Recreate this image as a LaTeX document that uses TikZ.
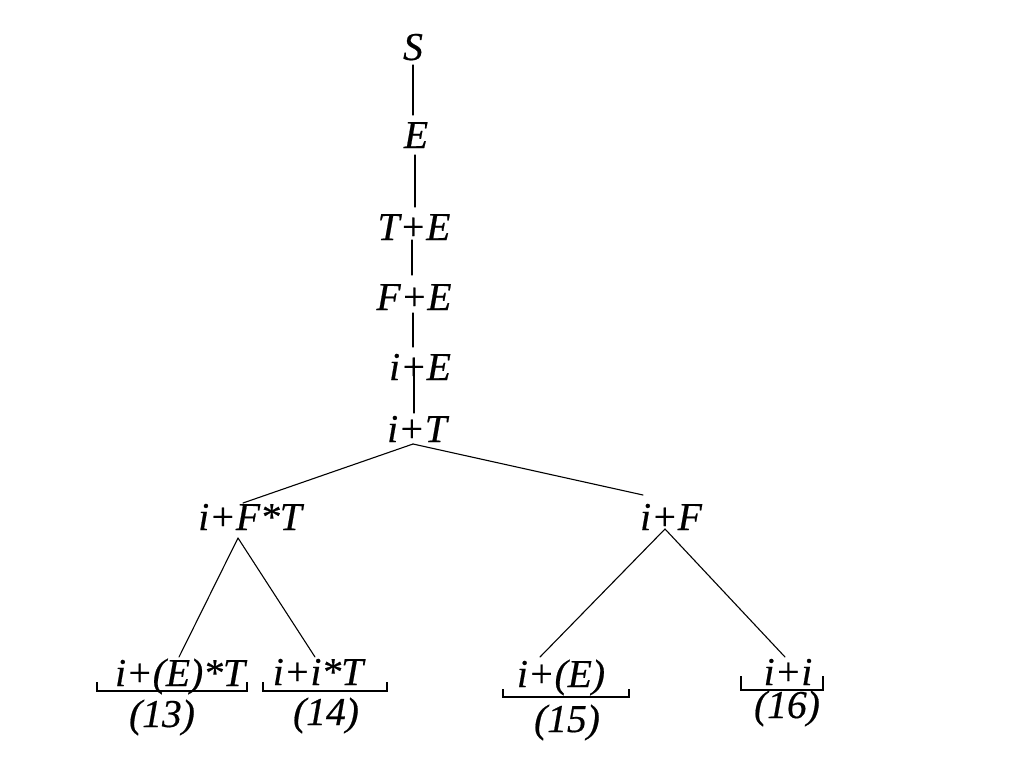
\documentclass[tikz,border=0pt]{standalone}
\usepackage{fontspec}
\setmainfont[ItalicFeatures={FakeBold=0.5}]{Liberation Serif}
\begin{document}
\begin{tikzpicture}[x=1pt,y=-1pt,
  lbl/.style={anchor=base,inner sep=0pt,font=\fontsize{39.5}{39.5}\selectfont\itshape},
  edge/.style={line width=1.1pt,line cap=round},
  brace/.style={line width=1.1pt}]
\useasboundingbox[fill=white] (0,0) rectangle (1024,768);
% labels
\node[lbl] (S)   at (413,60)  {S};
\node[lbl] (E)   at (416,148) {E};
\node[lbl] (TE)  at (414,240) {T+E};
\node[lbl] (FE)  at (414,310) {F+E};
\node[lbl] (iE)  at (420,380) {i+E};
\node[lbl] (iT)  at (417,442) {i+T};
\node[lbl] (iFT) at (250,530) {i+F*T};
\node[lbl] (iF)  at (671,530) {i+F};
\node[lbl] (a13) at (180,686) {i+(E)*T};
\node[lbl] (a14) at (318,685) {i+i*T};
\node[lbl] (a15) at (561,687) {i+(E)};
\node[lbl] (a16) at (788,685) {i+i};
\node[lbl] (n13) at (162,727) {(13)};
\node[lbl] (n14) at (326,725) {(14)};
\node[lbl] (n15) at (567,732) {(15)};
\node[lbl] (n16) at (787,718) {(16)};
% connector end points
\coordinate (S-s)   at (413,65);
\coordinate (E-n)   at (413,115);
\coordinate (E-s)   at (415,155);
\coordinate (TE-n)  at (415,207);
\coordinate (TE-s)  at (412,240);
\coordinate (FE-n)  at (412,275);
\coordinate (FE-s)  at (413,313);
\coordinate (iE-n)  at (413,347);
\coordinate (iE-s)  at (414,363);
\coordinate (iT-n)  at (414,413);
\coordinate (iT-s)  at (413,444);
\coordinate (iFT-n) at (243,503);
\coordinate (iF-n)  at (643,495);
\coordinate (iFT-s) at (238,538);
\coordinate (a13-n) at (179,657);
\coordinate (a14-n) at (315,657);
\coordinate (iF-s)  at (665,529);
\coordinate (a15-n) at (540,657);
\coordinate (a16-n) at (785,657);
% connectors
\draw[edge] (S-s) -- (E-n);
\draw[edge] (E-s) -- (TE-n);
\draw[edge] (TE-s) -- (FE-n);
\draw[edge] (FE-s) -- (iE-n);
\draw[edge] (iE-s) -- (iT-n);
\draw[edge] (iT-s) -- (iFT-n);
\draw[edge] (iT-s) -- (iF-n);
\draw[edge] (iFT-s) -- (a13-n);
\draw[edge] (iFT-s) -- (a14-n);
\draw[edge] (iF-s) -- (a15-n);
\draw[edge] (iF-s) -- (a16-n);
% brackets
\draw[brace] (97,682) -- (97,691) -- (247,691) -- (247,682);
\draw[brace] (263,682) -- (263,691) -- (387,691) -- (387,682);
\draw[brace] (503,689) -- (503,697) -- (629,697) -- (629,689);
\draw[brace] (741,676) -- (741,690) -- (823,690) -- (823,676);
\end{tikzpicture}
\end{document}
